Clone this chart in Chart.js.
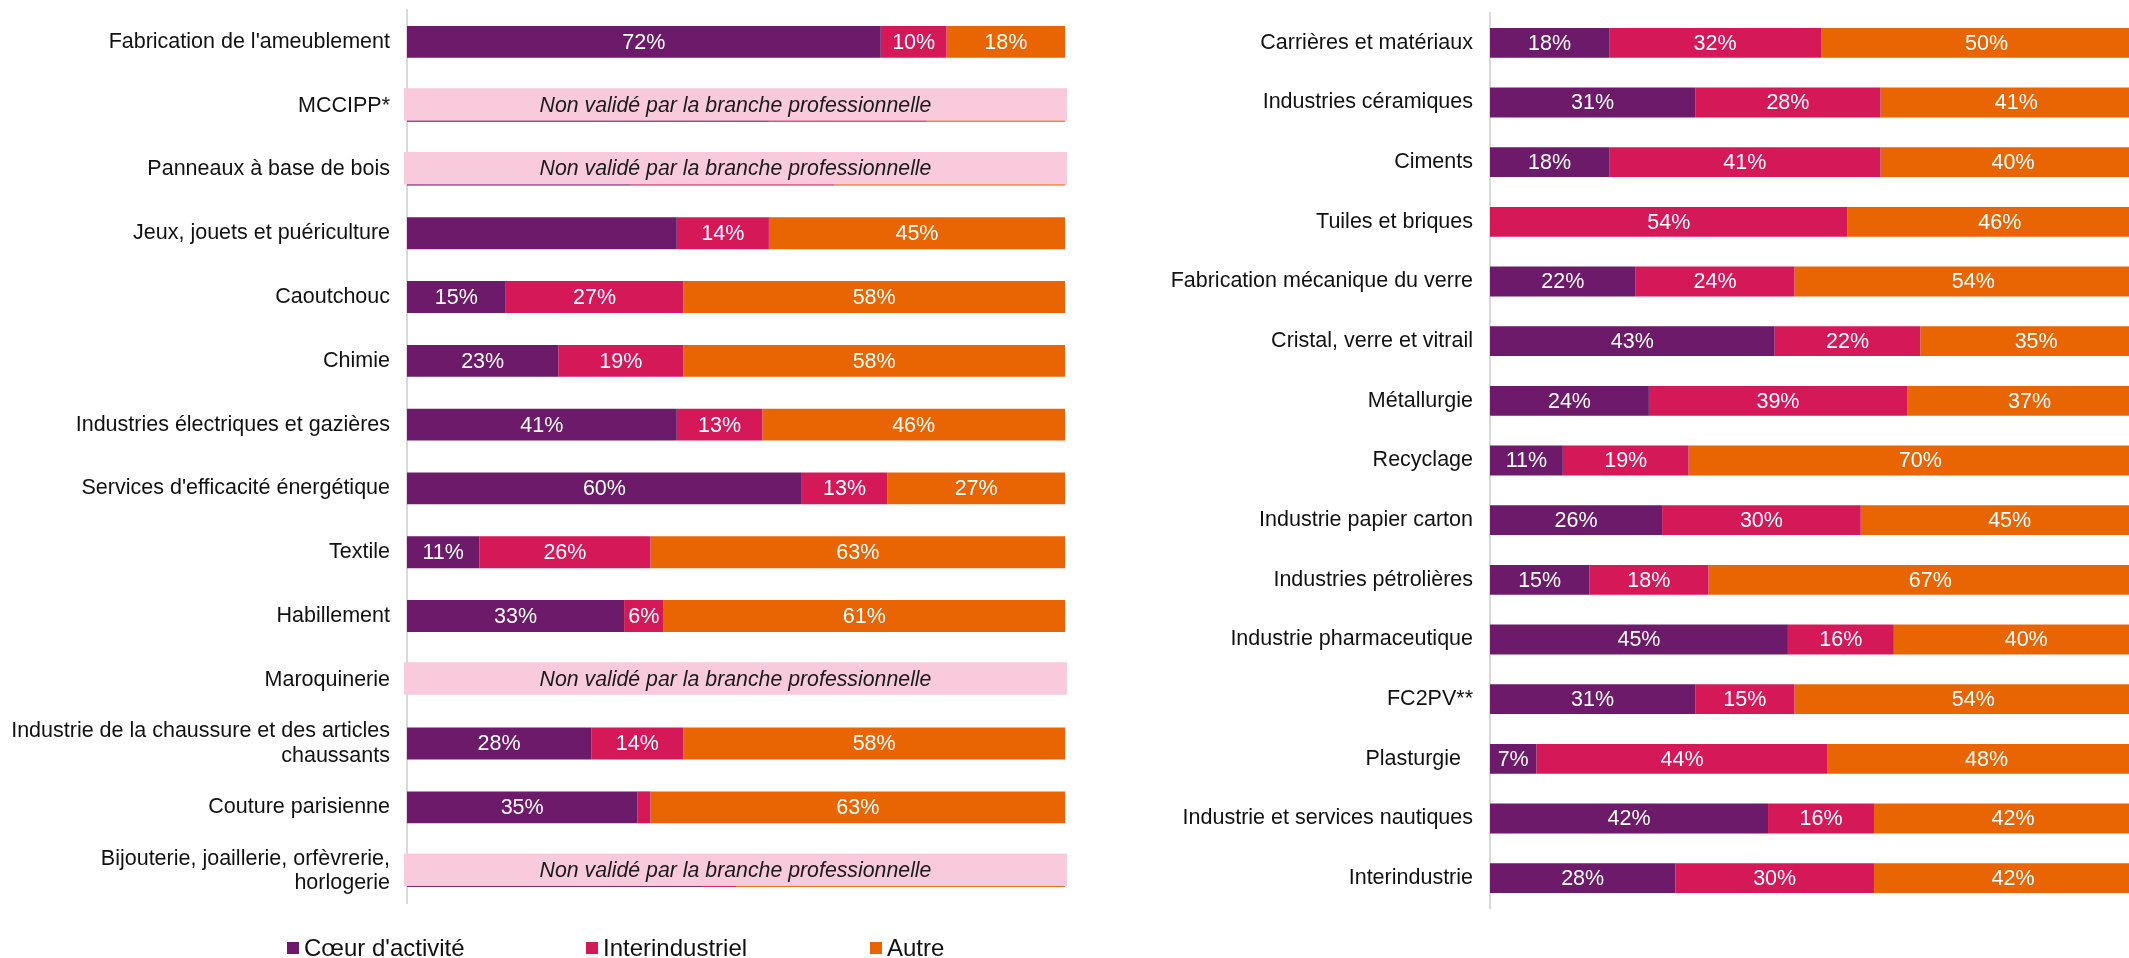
<!DOCTYPE html>
<html>
<head>
<meta charset="utf-8">
<script src="https://cdn.jsdelivr.net/npm/chart.js@4.4.1/dist/chart.umd.min.js"></script>
<style>
  html, body { margin: 0; padding: 0; width: 2129px; height: 958px; overflow: hidden; background: #fff; }
  canvas { position: absolute; top: 0; }
  #left { left: 0; }
  #right { left: 1100px; }
  #legend { position: absolute; left: 287px; top: 934px; display: flex; align-items: center;
            font-family: "Liberation Sans", Arial, sans-serif; font-size: 24px; line-height: 28px; color: #111; }
  #legend .item { display: flex; align-items: center; white-space: nowrap; }
  #legend .item:nth-child(1) { width: 299px; }
  #legend .item:nth-child(2) { width: 284px; }
  #legend .box { width: 12px; height: 12px; margin-right: 5px; }
</style>
</head>
<body>
<canvas id="left" width="1100" height="958"></canvas>
<canvas id="right" width="1052" height="958"></canvas>
<div id="legend"></div>
<script>
const seriesNames = ["Cœur d'activité", "Interindustriel", "Autre"];
const seriesColors = ['#6D1A6A', '#D41858', '#E96504'];

// panneau de gauche
const leftLabels = [
  "Fabrication de l'ameublement",
  "MCCIPP*",
  "Panneaux à base de bois",
  "Jeux, jouets et puériculture",
  "Caoutchouc",
  "Chimie",
  "Industries électriques et gazières",
  "Services d'efficacité énergétique",
  "Textile",
  "Habillement",
  "Maroquinerie",
  ["Industrie de la chaussure et des articles", "chaussants"],
  "Couture parisienne",
  ["Bijouterie, joaillerie, orfèvrerie,", "horlogerie"]
];
const leftCoeur = [72, 55, 34, 41, 15, 23, 41, 60, 11, 33, 0, 28, 35, 45];
const leftInter = [10, 24, 31, 14, 27, 19, 13, 13, 26, 6, 0, 14, 2, 5];
const leftAutre = [18, 21, 35, 45, 58, 58, 46, 27, 63, 61, 0, 58, 63, 50];
const leftNonValide = ["MCCIPP*", "Panneaux à base de bois", "Maroquinerie",
  "Bijouterie, joaillerie, orfèvrerie, horlogerie"];
const leftNoLabel = [["Jeux, jouets et puériculture", 0], ["Couture parisienne", 1]];

// panneau de droite
const rightLabels = [
  "Carrières et matériaux",
  "Industries céramiques",
  "Ciments",
  "Tuiles et briques",
  "Fabrication mécanique du verre",
  "Cristal, verre et vitrail",
  "Métallurgie",
  "Recyclage",
  "Industrie papier carton",
  "Industries pétrolières",
  "Industrie pharmaceutique",
  "FC2PV**",
  "Plasturgie  ",
  "Industrie et services nautiques",
  "Interindustrie"
];
const rightCoeur = [18, 31, 18, 0, 22, 43, 24, 11, 26, 15, 45, 31, 7, 42, 28];
const rightInter = [32, 28, 41, 54, 24, 22, 39, 19, 30, 18, 16, 15, 44, 16, 30];
const rightAutre = [50, 41, 40, 46, 54, 35, 37, 70, 45, 67, 40, 54, 48, 42, 42];

const FONT = '"Liberation Sans", Arial, sans-serif';
const labelText = l => [].concat(l).join(' ');

const barTexts = {
  id: 'barTexts',
  afterDatasetsDraw(chart, args, opts) {
    const {ctx, scales: {x, y}} = chart;
    ctx.save();
    ctx.textAlign = 'center';
    ctx.textBaseline = 'middle';
    ctx.font = '21.5px ' + FONT;
    ctx.fillStyle = '#fff';
    chart.data.datasets.forEach((ds, di) => {
      chart.getDatasetMeta(di).data.forEach((bar, i) => {
        const v = ds.data[i];
        const name = labelText(chart.data.labels[i]);
        if (!v || opts.nonValide.includes(name)) return;
        if (opts.noLabel.some(n => n[0] === name && n[1] === di)) return;
        const p = bar.getProps(['x', 'y', 'base'], true);
        ctx.fillText(v + '%', (p.x + p.base) / 2, p.y + 1);
      });
    });
    // cases "non validé"
    opts.nonValide.forEach(name => {
      const i = chart.data.labels.findIndex(l => labelText(l) === name);
      if (i < 0) return;
      const yc = y.getPixelForValue(i);
      const x0 = x.getPixelForValue(0) - 3;
      const x1 = x.getPixelForValue(100) + 2;
      ctx.fillStyle = '#F9CADC';
      ctx.fillRect(x0, yc - 17.5, x1 - x0, 32.5);
      ctx.fillStyle = '#1a1a1a';
      ctx.font = 'italic 21.3px ' + FONT;
      ctx.fillText('Non validé par la branche professionnelle', (x0 + x1) / 2, yc);
    });
    ctx.restore();
  }
};

function makeChart(id, labels, coeur, inter, autre, axisWidth, padding, nonValide, noLabel) {
  const values = [coeur, inter, autre];
  return new Chart(document.getElementById(id), {
    type: 'bar',
    data: {
      labels: labels,
      datasets: seriesNames.map((name, k) => ({
        label: name,
        data: values[k],
        backgroundColor: seriesColors[k],
        borderWidth: 0,
        categoryPercentage: 1,
        barPercentage: 0.5
      }))
    },
    options: {
      indexAxis: 'y',
      responsive: false,
      animation: false,
      layout: { padding: padding },
      plugins: {
        legend: { display: false },
        tooltip: { enabled: false },
        barTexts: { nonValide: nonValide, noLabel: noLabel }
      },
      scales: {
        x: { stacked: true, min: 0, max: 100, display: false },
        y: {
          stacked: true,
          afterFit: s => { s.width = axisWidth; s.paddingTop = 0; s.paddingBottom = 0; },
          grid: { drawOnChartArea: false, drawTicks: false },
          border: { display: true, color: '#d9d9d9', width: 2 },
          ticks: { padding: 17, color: '#111', autoSkip: false,
                   font: { family: FONT, size: 21.5, lineHeight: 1.15 } }
        }
      }
    },
    plugins: [barTexts]
  });
}

const leftChart = makeChart('left', leftLabels, leftCoeur, leftInter, leftAutre, 407,
  { top: 10, bottom: 55, left: 0, right: 35 }, leftNonValide, leftNoLabel);
makeChart('right', rightLabels, rightCoeur, rightInter, rightAutre, 390,
  { top: 13, bottom: 50, left: 0, right: 0 }, [], []);

// légende HTML
const legendBox = document.getElementById('legend');
leftChart.data.datasets.forEach(ds => {
  const item = document.createElement('div');
  item.className = 'item';
  const box = document.createElement('span');
  box.className = 'box';
  box.style.background = ds.backgroundColor;
  item.appendChild(box);
  item.appendChild(document.createTextNode(ds.label));
  legendBox.appendChild(item);
});
</script>
</body>
</html>
